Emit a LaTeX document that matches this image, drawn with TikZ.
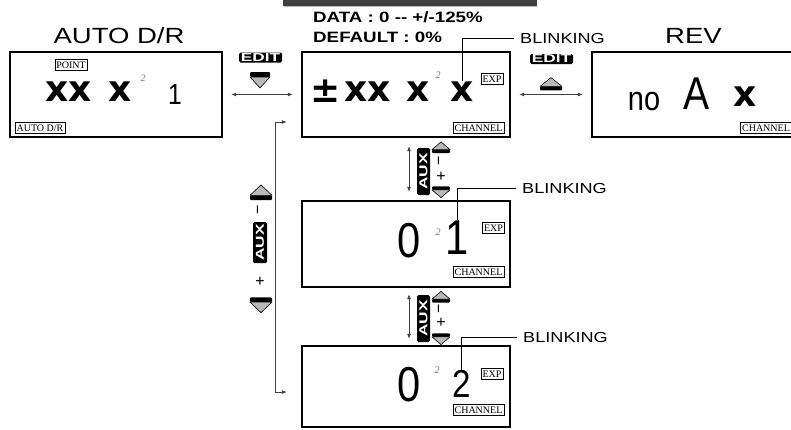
\documentclass[tikz,border=0pt]{standalone}
\usepackage{fontspec}
\setmainfont{Liberation Sans}
\newfontfamily\widesans[FakeStretch=1.25]{Liberation Sans}
\newfontfamily\btnfont[FakeStretch=1.5]{Liberation Sans}
\newfontfamily\tagfont{Liberation Serif}
\newfontfamily\lcdfont[FakeStretch=0.85]{Liberation Sans}
\newfontfamily\crossfont{DejaVu Sans}
\usetikzlibrary{arrows.meta}

\begin{document}
\begin{tikzpicture}[x=1pt, y=-1pt,
    lcd/.style={draw, line width=2.4pt, minimum width=208pt, minimum height=85pt, inner sep=0pt},
    lbl/.style={draw, line width=0.5pt, inner xsep=1.5pt, inner ysep=2pt, text height=7pt, text depth=0pt, font=\tagfont\fontsize{10}{10}\selectfont},
    btn/.style={fill=black, rounded corners=1.5pt, text=white, inner sep=0pt, font=\btnfont\bfseries\fontsize{11.5}{11.5}\selectfont},
    headline/.style={font=\widesans\fontsize{22}{22}\selectfont, inner sep=0pt},
    remark/.style={font=\widesans\fontsize{14.5}{14.5}\selectfont, inner sep=1pt},
    remarkb/.style={font=\widesans\bfseries\fontsize{15}{15}\selectfont, inner sep=0pt},
    lcdx/.style={font=\crossfont\bfseries\fontsize{36}{36}\selectfont, inner sep=0pt},
    seg/.style={font=\lcdfont\fontsize{#1}{#1}\selectfont, inner sep=0pt},
    pointmark/.style={font=\tagfont\itshape\fontsize{10}{10}\selectfont, text=black!55, inner sep=0pt},
    sign/.style={font=\fontsize{16}{16}\selectfont, inner sep=0pt},
    link/.style={black!75, line width=0.8pt, shorten <=8pt, shorten >=8pt},
    dbl/.style={{Latex[length=5pt,width=4pt]}-{Latex[length=5pt,width=4pt]}},
    onearrow/.style={-{Latex[length=5pt,width=4pt]}},
    keyup/.pic={
        \fill[rounded corners=1pt] (-10,3) rectangle (10,8);
        \filldraw[fill=gray!55, line width=0.6pt, line join=round] (-10,3) -- (10,3) -- (0,-8) -- cycle;
    },
    keydown/.pic={
        \fill[rounded corners=1pt] (-10,-8) rectangle (10,-3);
        \filldraw[fill=gray!55, line width=0.6pt, line join=round] (-10,-3) -- (10,-3) -- (0,8) -- cycle;
    }]
    \useasboundingbox (0,0) rectangle (791,429);

    % title bar (cut off)
    \fill[black!75] (283,0) rectangle (537,6);
    \draw[gray!55, line width=1pt] (284,6.5) -- (537,6.5);

    % LCD frames
    \node[lcd, minimum width=212pt] (autodr) at (116,94.5) {};
    \node[lcd] (data) at (406,94.5) {};
    \node[lcd] (rev) at (696,94.5) {};
    \node[lcd, minimum height=86pt] (chone) at (406,244) {};
    \node[lcd, minimum height=81pt] (chtwo) at (406,386.5) {};

    % titles and notes
    \node[headline, anchor=base] (autodrtitle) at (119,43) {AUTO D/R};
    \node[headline, anchor=base] (revtitle) at (693.5,43) {REV};
    \node[remarkb, anchor=base west] (datatxt) at (313,22) {DATA : 0 -{}- +/-125\%};
    \node[remarkb, anchor=base west] (defaulttxt) at (313,42) {DEFAULT : 0\%};
    \node[remark, anchor=base west] (blinka) at (519,43) {BLINKING};
    \node[remark, anchor=base west] (blinkb) at (521,193) {BLINKING};
    \node[remark, anchor=base west] (blinkc) at (522,342) {BLINKING};

    % AUTO D/R display
    \node[lbl] (point) at (71,64.5) {POINT};
    \node[lbl] (adrtag) at (40,128) {AUTO D/R};
    \node[lcdx] (adrxx) at (68.5,91.5) {xx};
    \node[lcdx] (adrx) at (120.5,91.5) {x};
    \node[pointmark] (adrdot) at (143,78) {2};
    \node[seg=29] (adrone) at (175,95) {1};

    % rate display
    \node[lbl] (expa) at (492,79) {EXP};
    \node[lbl] (cha) at (478.5,127.5) {CHANNEL};
    \node[lcdx] (pm) at (326,91.5) {±};
    \node[lcdx] (dataxx) at (367.5,91.5) {xx};
    \node[lcdx] (datax) at (418.5,91.5) {x};
    \node[pointmark] (datadot) at (438,75) {2};
    \node[lcdx] (xlast) at (462,91.5) {x};

    % REV display
    \node[lbl] (chb) at (766,127.5) {CHANNEL};
    \node[seg=34] (revno) at (644,101.5) {no};
    \node[seg=46] (reva) at (697,93.5) {A};
    \node[lcdx] (revx) at (745,97) {x};

    % channel 1 display
    \node[lbl] (expb) at (493.5,227.5) {EXP};
    \node[lbl] (chc) at (478.5,272) {CHANNEL};
    \node[seg=49] (zeroa) at (409,240.5) {0};
    \node[pointmark] (dota) at (438,232) {2};
    \node[seg=49] (one) at (457,237.5) {1};

    % channel 2 display
    \node[lbl] (expc) at (492,374) {EXP};
    \node[lbl] (chd) at (478.5,410) {CHANNEL};
    \node[seg=49] (zerob) at (409,385) {0};
    \node[pointmark] (dotb) at (437,370) {2};
    \node[seg=39] (two) at (461.5,384) {2};

    % blinking leaders
    \draw[line width=0.8pt, shorten <=5pt] (blinka.west) -| (xlast.north);
    \draw[line width=0.8pt, shorten <=5pt] (blinkb.west) -| (one.north);
    \draw[line width=0.8pt, shorten <=5pt] (blinkc.west) -| (two.north);

    % EDIT keys
    \node[btn, minimum width=43pt, minimum height=10pt] (edita) at (260.5,57.5) {EDIT};
    \pic at (260,80) {keydown};
    \node[btn, minimum width=43pt, minimum height=10pt] (editb) at (551.5,59) {EDIT};
    \pic[xscale=1.1, yscale=0.8] at (551,84) {keyup};
    \draw[link, dbl] (autodr) -- (data);
    \draw[link, dbl] (data) -- (rev);

    % AUX keys between displays
    \node[btn, rotate=90, minimum width=47pt, minimum height=13pt] (auxa) at (423.5,171.5) {AUX};
    \pic[xscale=0.9, yscale=0.7] at (441,147.5) {keyup};
    \pic[xscale=0.9, yscale=0.7] at (441,192) {keydown};
    \node[sign, rotate=90] (minusa) at (441,161) {−};
    \node[sign] (plusa) at (441,177) {+};
    \draw[link, dbl] ([xshift=3pt]data.south) -- ([xshift=3pt]chone.north);

    \node[btn, rotate=90, minimum width=47pt, minimum height=13pt] (auxb) at (423.5,318.5) {AUX};
    \pic[xscale=0.9, yscale=0.7] at (441,297) {keyup};
    \pic[xscale=0.9, yscale=0.7] at (441,339) {keydown};
    \node[sign, rotate=90] (minusb) at (441,309) {−};
    \node[sign] (plusb) at (441,323) {+};
    \draw[link, dbl, shorten <=6pt, shorten >=6pt] ([xshift=3pt]chone.south) -- ([xshift=3pt]chtwo.north);

    % AUX key on the left
    \node[btn, rotate=90, minimum width=41pt, minimum height=14pt] (auxc) at (260,242.5) {AUX};
    \pic[xscale=1.1, yscale=0.95] at (261,192.5) {keyup};
    \pic[xscale=1.1, yscale=0.95] at (261,305) {keydown};
    \node[sign, rotate=90] (minusc) at (260,210) {−};
    \node[sign] (plusc) at (260,282) {+};

    \coordinate (brtop) at (275,122);
    \coordinate (brbot) at (275,392);
    \draw[link, shorten <=0pt, shorten >=0pt] (brtop) -- (brbot);
    \draw[link, onearrow, shorten <=0pt, shorten >=14pt] (brtop) -- (brtop -| data.west);
    \draw[link, onearrow, shorten <=0pt, shorten >=14pt] (brbot) -- (brbot -| chtwo.west);
\end{tikzpicture}
\end{document}
